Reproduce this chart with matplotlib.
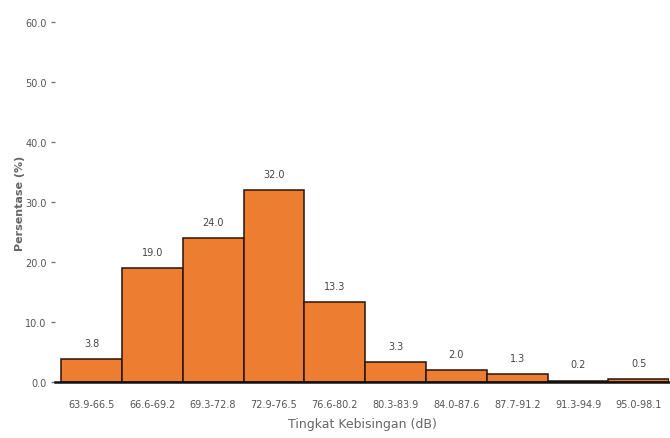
import matplotlib
matplotlib.use("Agg")
import matplotlib.pyplot as plt

categories = ["63.9-66.5", "66.6-69.2", "69.3-72.8", "72.9-76.5", "76.6-80.2",
              "80.3-83.9", "84.0-87.6", "87.7-91.2", "91.3-94.9", "95.0-98.1"]
values = [3.8, 19.0, 24.0, 32.0, 13.3, 3.3, 2.0, 1.3, 0.2, 0.5]
value_labels = ["3.8", "19.0", "24.0", "32.0", "13.3", "3.3", "2.0", "1.3", "0.2", "0.5"]
yticks = [0, 10, 20, 30, 40, 50, 60]

fig = plt.figure(figsize=(6.7, 4.39), dpi=100)
ax = fig.add_axes([0.082, 0.1276, 0.917, 0.82])

x = list(range(len(categories)))
ax.bar(x, values, width=1.0, color="#ED7D31", edgecolor="#2a1208", linewidth=1.1)
for xi, v, lab in zip(x, values, value_labels):
    ax.text(xi, v + 1.9, lab, ha="center", va="bottom", fontsize=7, color="#444444")

ax.set_xlim(-0.6, 9.5)
ax.set_ylim(0, 60)
ax.set_yticks(yticks)
ax.set_yticklabels([f"{t:.1f}" for t in yticks])
ax.set_xticks(x)
ax.set_xticklabels(categories)
ax.tick_params(axis="x", length=0, pad=12, labelsize=7, labelcolor="#555555")
ax.tick_params(axis="y", length=3, width=1, color="#777777", pad=3, labelsize=7, labelcolor="#555555")

for s in ["left", "top", "right"]:
    ax.spines[s].set_visible(False)
ax.spines["bottom"].set_linewidth(1.8)
ax.spines["bottom"].set_color("#111111")

ax.set_xlabel("Tingkat Kebisingan (dB)", fontsize=9, color="#666666", labelpad=6)
ax.set_ylabel("Persentase (%)", fontsize=8, color="#666666", labelpad=0, fontweight="bold")

fig.savefig("out.png", dpi=100)
